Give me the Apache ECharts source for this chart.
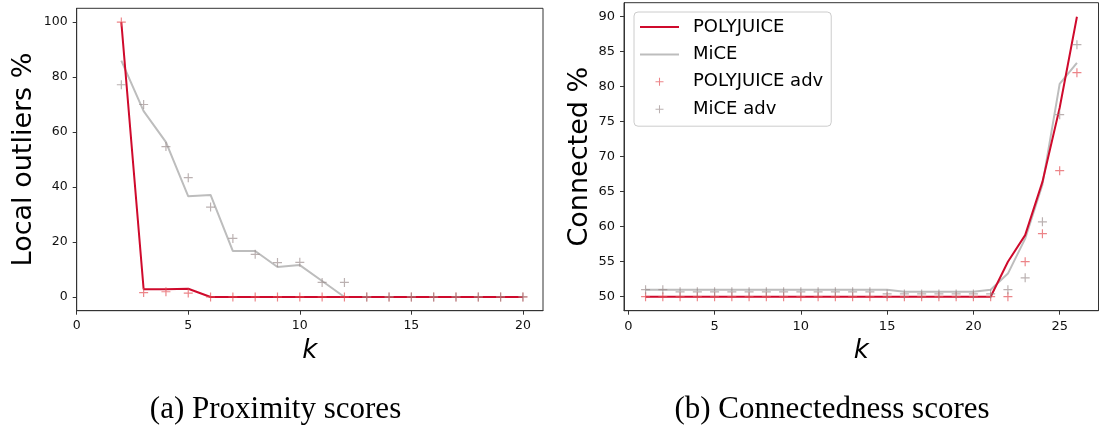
<!DOCTYPE html>
<html>
<head>
<meta charset="utf-8">
<script src="https://cdn.jsdelivr.net/npm/echarts@6/dist/echarts.min.js"></script>
<style>
html,body{margin:0;padding:0;background:#fff;}
#chart{width:1102px;height:428px;}
</style>
</head>
<body>
<div id="chart"></div>
<script>
// ---- Data ----
var kLeft = [2,3,4,5,6,7,8,9,10,11,12,13,14,15,16,17,18,19,20];
var polyLeft    = [100, 2.8, 2.8, 3.0, 0,0,0,0,0,0,0,0,0,0,0,0,0,0,0];
var miceLeft    = [86, 67.6, 56.3, 36.6, 37.1, 16.7, 16.7, 10.9, 11.6, 5.8, 0, 0,0,0,0,0,0,0,0];
var polyAdvLeft = [100, 1.6, 1.9, 1.4, 0,0,0,0,0,0,0,0,0,0,0,0,0,0,0];
var miceAdvLeft = [77.2, 70, 54.7, 43.4, 32.7, 21.3, 15.5, 12.5, 12.6, 5.3, 5.3, 0,0,0,0,0,0,0,0];

var kRight = [1,2,3,4,5,6,7,8,9,10,11,12,13,14,15,16,17,18,19,20,21,22,23,24,25,26];
var polyRight    = [50,50,50,50,50,50,50,50,50,50,50,50,50,50,50,50,50,50,50,50,50, 55, 58.8, 66.4, 77, 90];
var miceRight    = [51,51,51,51,51,51,51,51,51,51,51,51,51,51,51, 50.7,50.7,50.7,50.7,50.7, 51, 53.3, 58.3, 66, 80.4, 83.4];
var polyAdvRight = [50,50,50,50,50,50,50,50,50,50,50,50,50,50,50,50,50,50,50,50,50,50, 55, 59, 68, 82];
var miceAdvRight = [51,51, 50.7,50.7,50.7,50.7,50.7,50.7,50.7,50.7,50.7,50.7,50.7,50.7, 50.4,50.4,50.4,50.4,50.4,50.4,50.4, 51, 52.7, 60.7, 76, 86];

var leftXTicks = [0,5,10,15,20];
var leftYTicks = [0,20,40,60,80,100];
var rightXTicks = [0,5,10,15,20,25];
var rightYTicks = [50,55,60,65,70,75,80,85,90];

var seriesNames = ['POLYJUICE','MiCE','POLYJUICE adv','MiCE adv'];
var captions = ['(a) Proximity scores','(b) Connectedness scores'];
var yNames = ['Local outliers %','Connected %'];
var xName = 'k';

// ---- Styling ----
var RED = '#cf0a2c', GRAY = '#bdbdbd';
var RED_M = 'rgba(228,80,85,0.7)', GRAY_M = 'rgba(150,135,135,0.65)';
var PLUS = 'path://M4.35,0H5.65V4.35H10V5.65H5.65V10H4.35V5.65H0V4.35H4.35Z';
var LINE_ICON = 'path://M0,0H39V2H0Z';
var AX = '#333';

function pairs(xs, ys){ return xs.map(function(x,i){ return [x, ys[i]]; }); }

function xAxisCfg(idx, min, max, ticks, fs){
  return {
    type:'value', gridIndex:idx, min:min, max:max,
    name:xName, nameLocation:'middle', nameGap:28,
    nameTextStyle:{fontFamily:'DejaVu Sans', fontStyle:'italic', fontSize:26, color:'#000'},
    axisLine:{show:true, onZero:false, lineStyle:{color:AX, width:1}},
    axisTick:{show:true, inside:false, length:4, lineStyle:{color:AX}, customValues:ticks},
    axisLabel:{fontFamily:'DejaVu Sans', fontSize:fs, color:'#111', margin:9, customValues:ticks},
    splitLine:{show:false}
  };
}
function yAxisCfg(idx, min, max, ticks, name, gap, fs){
  return {
    type:'value', gridIndex:idx, min:min, max:max,
    name:name, nameLocation:'middle', nameGap:gap,
    nameTextStyle:{fontFamily:'DejaVu Sans', fontSize:27, color:'#000'},
    axisLine:{show:true, onZero:false, lineStyle:{color:AX, width:1}},
    axisTick:{show:true, inside:false, length:4, lineStyle:{color:AX}, customValues:ticks},
    axisLabel:{fontFamily:'DejaVu Sans', fontSize:fs, color:'#111', margin:9, customValues:ticks},
    splitLine:{show:false}
  };
}
function lineS(name, idx, data, color, z){
  return {name:name, type:'line', xAxisIndex:idx, yAxisIndex:idx, data:data,
    symbol:'none', showSymbol:false, lineStyle:{color:color, width:2}, itemStyle:{color:color},
    z:z, animation:false};
}
function plusS(name, idx, data, color, z){
  return {name:name, type:'scatter', xAxisIndex:idx, yAxisIndex:idx, data:data,
    symbol:PLUS, symbolSize:9, itemStyle:{color:color, opacity:1},
    z:z, animation:false};
}

var chart = echarts.init(document.getElementById('chart'), null, {renderer:'canvas'});
chart.setOption({
  backgroundColor:'#fff',
  animation:false,
  grid:[
    {left:76.7, top:8.3, width:466.3, height:302.4, show:true, borderColor:AX, borderWidth:1, backgroundColor:'transparent'},
    {left:624, top:2.7, width:474.5, height:308, show:true, borderColor:AX, borderWidth:1, backgroundColor:'transparent'}
  ],
  xAxis:[ xAxisCfg(0, 0, 20.9, leftXTicks, 12.5), xAxisCfg(1, -0.25, 27.25, rightXTicks, 13) ],
  yAxis:[ yAxisCfg(0, -5, 105, leftYTicks, yNames[0], 39, 12.5), yAxisCfg(1, 48, 92, rightYTicks, yNames[1], 31, 13) ],
  legend:{
    data:[
      {name:seriesNames[0], icon:LINE_ICON},
      {name:seriesNames[1], icon:LINE_ICON},
      {name:seriesNames[2]},
      {name:seriesNames[3]}
    ],
    orient:'vertical', left:634, top:12,
    itemWidth:39, itemHeight:8, itemGap:7.4,
    padding:[5,8,7,6],
    backgroundColor:'rgba(255,255,255,0.85)', borderColor:'#cccccc', borderWidth:1, borderRadius:4,
    textStyle:{fontFamily:'DejaVu Sans', fontSize:18, color:'#000', lineHeight:20, padding:[0,0,0,9]},
    selectedMode:false
  },
  graphic:[
    {type:'text', x:275.5, y:410, style:{text:captions[0], x:0, y:0, align:'center', verticalAlign:'middle', font:'31px "Liberation Serif"', fill:'#000'}},
    {type:'text', x:832, y:410, style:{text:captions[1], x:0, y:0, align:'center', verticalAlign:'middle', font:'31px "Liberation Serif"', fill:'#000'}}
  ],
  series:[
    lineS(seriesNames[1], 0, pairs(kLeft, miceLeft), GRAY, 2),
    lineS(seriesNames[0], 0, pairs(kLeft, polyLeft), RED, 3),
    plusS(seriesNames[2], 0, pairs(kLeft, polyAdvLeft), RED_M, 4),
    plusS(seriesNames[3], 0, pairs(kLeft, miceAdvLeft), GRAY_M, 5),
    lineS(seriesNames[1], 1, pairs(kRight, miceRight), GRAY, 2),
    lineS(seriesNames[0], 1, pairs(kRight, polyRight), RED, 3),
    plusS(seriesNames[2], 1, pairs(kRight, polyAdvRight), RED_M, 4),
    plusS(seriesNames[3], 1, pairs(kRight, miceAdvRight), GRAY_M, 5)
  ]
});
</script>
</body>
</html>
